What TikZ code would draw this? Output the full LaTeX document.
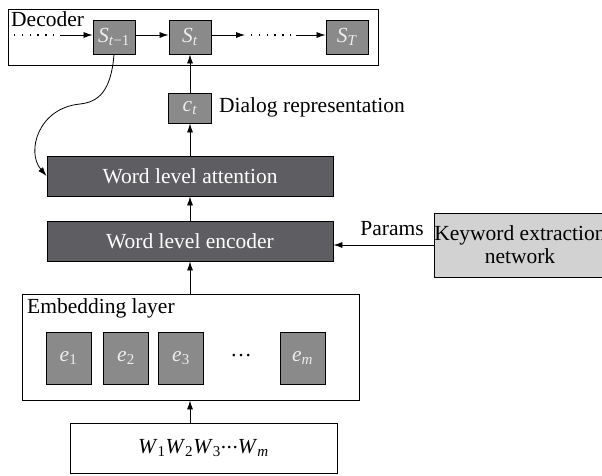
\documentclass[tikz,border=0pt]{standalone}
\usepackage{fontspec}
\setmainfont{Liberation Serif}
\usetikzlibrary{arrows.meta}
\definecolor{darkbox}{HTML}{5E5E62}
\definecolor{midbox}{HTML}{8A8A8A}
\definecolor{lightbox}{HTML}{D2D2D2}
\definecolor{boxtext}{HTML}{EDEDED}
\newcommand{\midcdots}{\raisebox{0.22em}{.\kern0.5pt.\kern0.5pt.}}
\begin{document}
\begin{tikzpicture}[x=1pt,y=-1pt,
  every node/.style={font=\fontsize{21.5}{25}\selectfont, inner sep=0pt},
  frame/.style={draw=black, line width=0.9pt, fill=white},
  layerbox/.style={draw=black, line width=0.9pt, fill=darkbox, text=white,
    minimum width=286pt, minimum height=40pt},
  statebox/.style={draw=black, line width=0.9pt, fill=midbox, text=boxtext,
    minimum width=42pt, minimum height=34pt},
  embbox/.style={draw=black, line width=0.9pt, fill=midbox, text=boxtext,
    minimum width=45pt, minimum height=52pt},
  keybox/.style={draw=black, line width=0.9pt, fill=lightbox, align=center,
    minimum width=172pt, minimum height=64pt},
  flow/.style={line width=0.8pt, -{Latex[length=9pt,width=6pt]}},
  dotrow/.style={line width=1.6pt, dash pattern=on 1.4pt off 6.4pt}
]
\useasboundingbox (0,0) rectangle (602,475);

% decoder
\node[frame, minimum width=370pt, minimum height=56pt] (dec) at (193,37) {};
\node[anchor=north west] (declabel) at (11,11) {Decoder};
\node[statebox] (sprev) at (114,37) {\textit{S}\textsubscript{\textit{t}−1}};
\node[statebox] (scur) at (190,37) {\textit{S}\textsubscript{\textit{t}}};
\node[statebox] (slast) at (347,37) {\textit{S}\textsubscript{\textit{T}}};
\coordinate (dA) at (14,35);
\coordinate (dB) at (54,35);
\coordinate (aL) at (60,35);
\coordinate (mA) at (211,35);
\coordinate (mB) at (245,35);
\coordinate (dC) at (251,35);
\coordinate (dD) at (291,35);
\coordinate (mC) at (296,35);
\draw[dotrow] (dA) -- (dB);
\draw[flow] (aL) -- (aL -| sprev.west);
\draw[flow] (sprev.east |- aL) -- (scur.west |- aL);
\draw[flow] (scur.east |- mA) -- (mB);
\draw[dotrow] (dC) -- (dD);
\draw[flow] (mC) -- (mC -| slast.west);

% context vector
\node[statebox, minimum width=43pt, minimum height=30pt] (ct) at (190,108) {\textit{c}\textsubscript{\textit{t}}};
\node[anchor=west] (ctlabel) at (219,107) {Dialog representation};

% word level layers
\node[layerbox] (att) at (190,176) {Word level attention};
\node[layerbox] (enc) at (190,241) {Word level encoder};

% keyword extraction
\node[keybox] (kw) at (520,245) {Keyword extraction\\[-2pt]network};
\node[anchor=south] (params) at (392,236) {Params};

% embedding layer
\node[frame, minimum width=337pt, minimum height=106pt] (emb) at (190.5,347) {};
\node[anchor=north west] (emblabel) at (27,298) {Embedding layer};
\node[embbox] (e1) at (68.5,358) {\textit{e}\textsubscript{1}};
\node[embbox] (e2) at (126,358) {\textit{e}\textsubscript{2}};
\node[embbox] (e3) at (181,358) {\textit{e}\textsubscript{3}};
\node (edots) at (241,356) {…};
\node[embbox] (em) at (302.5,358) {\textit{e}\textsubscript{\textit{m}}};

% input words
\node[frame, minimum width=267pt, minimum height=50pt] (words) at (203.5,448)
  {\textit{W}\textsubscript{1}\textit{W}\textsubscript{2}\textit{W}\textsubscript{3}\midcdots\textit{W}\textsubscript{\textit{m}}};

% connections
\draw[flow] (words.north -| enc) -- (emb.south -| enc);
\draw[flow] (emb.north -| enc) -- (enc.south);
\draw[flow] (enc.north) -- (att.south);
\draw[flow] (att.north) -- (ct.south);
\draw[flow] (ct.north) -- (scur.south);
\draw[flow] (kw.west) -- (kw.west -| enc.east);
\draw[line width=0.8pt, -{Latex[length=9pt,width=6pt]}]
  (sprev.south) .. controls (111,92) and (98,102) .. (80,104)
  .. controls (38,108) and (26,152) .. (att.west);
\end{tikzpicture}
\end{document}
